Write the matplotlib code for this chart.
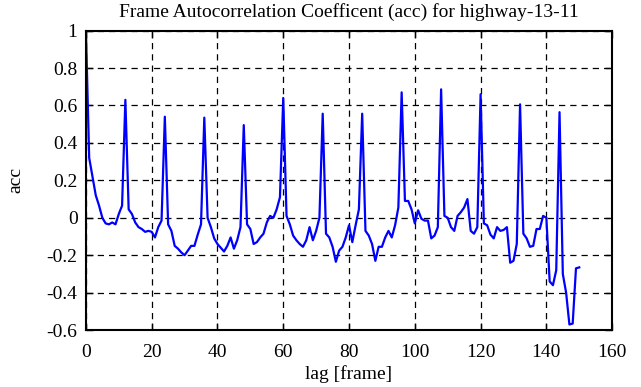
import matplotlib
matplotlib.use("Agg")
import matplotlib.pyplot as plt
import numpy as np

# autocorrelation values, lag 0..150
lag = np.arange(0, 151)
acc = [
    1.0, 0.32, 0.22, 0.12, 0.065, 0.0, -0.03, -0.035, -0.025, -0.035,    # 0-9
    0.02, 0.065, 0.63, 0.045, 0.02, -0.025, -0.05, -0.06, -0.075, -0.07,  # 10-19
    -0.075, -0.105, -0.05, -0.015, 0.54, -0.035, -0.07, -0.15, -0.165, -0.185,  # 20-29
    -0.2, -0.175, -0.15, -0.15, -0.09, -0.035, 0.535, 0.0, -0.05, -0.11,  # 30-39
    -0.14, -0.16, -0.18, -0.15, -0.105, -0.165, -0.12, -0.05, 0.495, -0.035,  # 40-49
    -0.06, -0.14, -0.13, -0.105, -0.085, -0.025, 0.01, 0.0, 0.045, 0.11,  # 50-59
    0.64, 0.01, -0.035, -0.095, -0.12, -0.14, -0.155, -0.12, -0.05, -0.12,  # 60-69
    -0.07, 0.0, 0.556, -0.085, -0.105, -0.155, -0.235, -0.175, -0.155, -0.105,  # 70-79
    -0.04, -0.13, -0.04, 0.045, 0.556, -0.07, -0.095, -0.14, -0.23, -0.155,  # 80-89
    -0.155, -0.105, -0.07, -0.105, -0.04, 0.055, 0.67, 0.09, 0.09, 0.045,  # 90-99
    -0.03, 0.04, -0.005, -0.015, -0.015, -0.11, -0.095, -0.05, 0.686, 0.01,  # 100-109
    0.0, -0.05, -0.07, 0.01, 0.03, 0.055, 0.1, -0.07, -0.085, -0.05,  # 110-119
    0.66, -0.03, -0.04, -0.09, -0.11, -0.05, -0.07, -0.065, -0.05, -0.24,  # 120-129
    -0.23, -0.14, 0.606, -0.085, -0.11, -0.155, -0.15, -0.06, -0.06, 0.01,  # 130-139
    0.0, -0.34, -0.36, -0.28, 0.564, -0.3, -0.4, -0.57, -0.565, -0.27,  # 140-149
    -0.265,  # 150
]

x_ticks = np.arange(0, 161, 20)
y_ticks = np.round(np.arange(-0.6, 1.01, 0.2), 1)

plt.rcParams['font.family'] = ['Liberation Serif', 'DejaVu Serif']
plt.rcParams['axes.unicode_minus'] = False

fig = plt.figure(figsize=(6.41, 3.87), dpi=100)
ax = fig.add_axes([0.134, 0.147, 0.821, 0.774])

ax.plot(lag, acc, color='#0000ff', linewidth=1.6)

ax.set_xlim(0, 160)
ax.set_ylim(-0.6, 1)
ax.set_xticks(x_ticks)
ax.set_yticks(y_ticks)
ax.set_yticklabels(['%g' % v for v in y_ticks])
ax.tick_params(direction='in', top=True, right=True, length=5, width=1,
               labelsize=14)
ax.tick_params(axis='x', pad=10)
ax.tick_params(axis='y', pad=6)
ax.grid(True, color='black', linestyle=(0, (5, 4)), linewidth=0.9)
for s in ax.spines.values():
    s.set_linewidth(1.5)

ax.set_xlabel('lag [frame]', fontsize=14, labelpad=3)
ax.set_ylabel('acc', fontsize=14, labelpad=16)
ax.set_title('Frame Autocorrelation Coefficent (acc) for highway-13-11',
             fontsize=14, pad=10)

fig.savefig('out.png', dpi=100)
